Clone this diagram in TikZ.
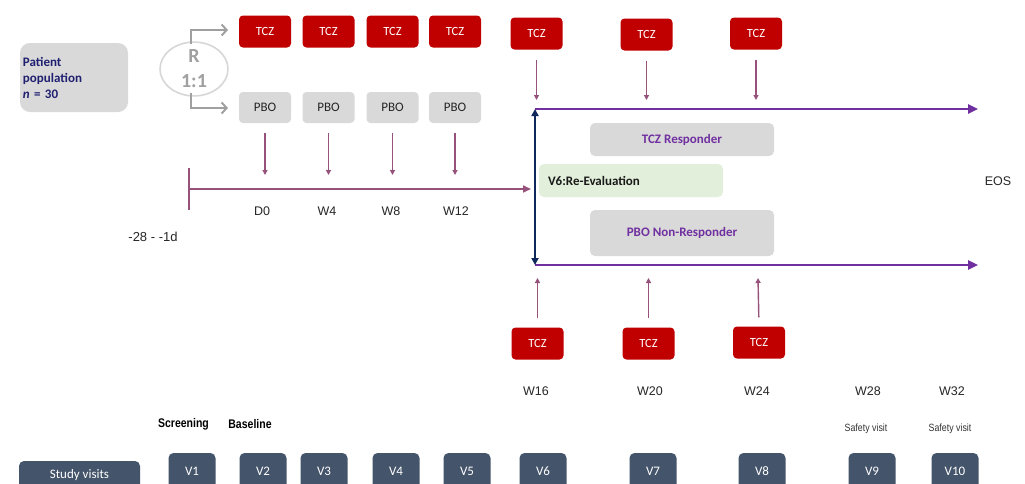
\documentclass[tikz,border=0pt]{standalone}
\usepackage{fontspec}
\setmainfont{Carlito}
\newfontfamily\arial{Liberation Sans}
\newfontfamily\arialn[FakeStretch=0.84]{Liberation Sans}
\usetikzlibrary{arrows.meta,shapes.geometric}
\definecolor{tczred}{RGB}{192,0,0}
\definecolor{boxgray}{RGB}{217,217,217}
\definecolor{navytext}{RGB}{32,32,112}
\definecolor{mauve}{RGB}{150,82,122}
\definecolor{purp}{RGB}{112,48,160}
\definecolor{navy}{RGB}{14,40,92}
\definecolor{greenbox}{RGB}{226,239,218}
\definecolor{slate}{RGB}{68,84,106}
\definecolor{ringgray}{RGB}{215,215,215}
\definecolor{brgray}{RGB}{160,160,160}
\tikzset{
  tczbox/.style={fill=tczred, rounded corners=4pt, minimum width=52pt, minimum height=32pt, text=white, inner sep=0pt, font=\fontsize{12.5}{14}\selectfont},
  pbobox/.style={fill=boxgray, rounded corners=4pt, minimum width=52pt, minimum height=31pt, text=black!85, inner sep=0pt, font=\fontsize{13}{14}\selectfont},
  respbox/.style={fill=boxgray, rounded corners=5pt, minimum width=184pt, inner sep=0pt, text=purp, font=\bfseries\fontsize{13}{15}\selectfont},
  vbox/.style={fill=slate, rounded corners=5pt, minimum width=47pt, minimum height=36pt, text=white, inner sep=0pt, font=\fontsize{13}{14}\selectfont},
  lab/.style={inner sep=0pt, font=\arial\fontsize{12.5}{14}\selectfont, text=black!85},
  narrowlab/.style={inner sep=0pt, font=\arialn\bfseries\fontsize{12.5}{14}\selectfont},
  safelab/.style={inner sep=0pt, font=\arialn\fontsize{10.5}{12}\selectfont, text=black!80},
  marr/.style={draw=mauve, line width=1.4pt, -{Triangle[length=5pt,width=5pt]}},
  parr/.style={draw=purp, line width=2.4pt, -{Triangle[length=10pt,width=9pt]}},
  grayarr/.style={draw=brgray, line width=2pt, -{Straight Barb[length=5pt,width=11pt]}},
}
\begin{document}
\begin{tikzpicture}[x=1pt,y=-1pt]
\useasboundingbox (0,0) rectangle (1025,483);
\clip (0,0) rectangle (1025,483);
\fill[white] (0,0) rectangle (1025,483);

% patient population
\node[fill=boxgray, rounded corners=10pt, minimum width=108pt, minimum height=69pt, text width=102pt, inner xsep=3pt, align=left, text=navytext, font=\bfseries\fontsize{13}{16}\selectfont] (pat) at (74,77.5) {Patient\\population\\\textit{n}~=~30};

% randomisation
\node[ellipse, draw=ringgray, line width=1.6pt, minimum width=68pt, minimum height=52pt, inner sep=0pt, align=center, text=brgray, font=\bfseries\fontsize{20}{25}\selectfont] (ell) at (194,69) {R\\1:1};
\coordinate (bt) at (191,44);
\coordinate (bt2) at (191,30);
\coordinate (be1) at (228,30);
\coordinate (bb) at (191,93);
\coordinate (bb2) at (191,108);
\coordinate (be2) at (228,108);
\draw[grayarr] (bt) -- (bt2) -- (be1);
\draw[grayarr] (bb) -- (bb2) -- (be2);

% first-phase TCZ / PBO
\foreach \i/\x in {1/265,2/328.5,3/392.5,4/455}{
  \node[tczbox] (t\i) at (\x,31.5) {TCZ};
  \node[pbobox] (p\i) at (\x,107.5) {PBO};
  \coordinate (pa\i) at (\x,175);
  \draw[marr, shorten <=10pt] (p\i.south) -- (pa\i);
}

% timeline
\coordinate (tk1) at (189,168);
\coordinate (tk2) at (189,210);
\coordinate (tl0) at (189,189);
\coordinate (tlend) at (531,189);
\draw[mauve, line width=1.6pt] (tk1) -- (tk2);
\draw[mauve, line width=1.6pt, -{Triangle[length=8pt,width=7pt]}] (tl0) -- (tlend);

\node[lab] (d0) at (262,211) {D0};
\node[lab] (w4) at (327,211) {W4};
\node[lab] (w8) at (391,211) {W8};
\node[lab] (w12) at (456,211) {W12};
\node[lab, font=\arial\fontsize{13}{14}\selectfont] (pre) at (153,237) {-28 - -1d};

% re-evaluation split
\coordinate (vtop) at (535,109);
\coordinate (vbot) at (535,265);
\coordinate (topend) at (978,109);
\coordinate (botend) at (978,265);
\draw[parr] (vtop) -- (topend);
\draw[parr] (vbot) -- (botend);
\draw[navy, line width=2.4pt, {Triangle[length=7pt,width=7pt]}-{Triangle[length=7pt,width=7pt]}] (vtop) -- (vbot);

% TCZ after re-evaluation (top)
\node[tczbox] (t5) at (536.5,33.5) {TCZ};
\node[tczbox] (t6) at (646.5,34.5) {TCZ};
\node[tczbox] (t7) at (756,33.5) {TCZ};
\coordinate (ta5) at (536.5,100);
\coordinate (ta6) at (646.5,100);
\coordinate (ta7) at (756,100);
\draw[marr, shorten <=10pt] (t5.south) -- (ta5);
\draw[marr, shorten <=10pt] (t6.south) -- (ta6);
\draw[marr, shorten <=10pt] (t7.south) -- (ta7);

% TCZ (bottom)
\node[tczbox] (b5) at (537.5,343.5) {TCZ};
\node[tczbox] (b6) at (648.5,343.5) {TCZ};
\node[tczbox] (b7) at (759,342.5) {TCZ};
\coordinate (ba5) at (537.5,278);
\coordinate (ba6) at (648.5,278);
\coordinate (ba7) at (758,278);
\draw[marr, shorten <=9pt] (b5.north) -- (ba5);
\draw[marr, shorten <=9pt] (b6.north) -- (ba6);
\draw[marr, shorten <=9pt] (b7.north) -- (ba7);

% group boxes
\node[respbox, minimum height=33pt] (resp) at (682,139.5) {TCZ Responder};
\node[fill=greenbox, rounded corners=5pt, minimum height=33pt, text width=166pt, inner xsep=9pt, inner ysep=0pt, align=left, text=black!90, font=\bfseries\fontsize{13}{15}\selectfont] (reeval) at (631,180.5) {V6:Re-Evaluation};
\node[respbox, minimum height=46pt] (nonresp) at (682,233) {PBO Non-Responder};

\node[lab] (eos) at (998,181) {EOS};

% week labels
\node[lab] (w16) at (536,391) {W16};
\node[lab] (w20) at (650,391) {W20};
\node[lab] (w24) at (757,391) {W24};
\node[lab] (w28) at (868,391) {W28};
\node[lab] (w32) at (952,391) {W32};

\node[narrowlab] (scr) at (183.5,424) {Screening};
\node[narrowlab] (base) at (250,424) {Baseline};
\node[safelab] (sv1) at (866,429) {Safety visit};
\node[safelab] (sv2) at (950,429) {Safety visit};

% study visits
\node[fill=slate, rounded corners=5pt, minimum width=121pt, minimum height=28pt, text=white, inner sep=0pt, font=\fontsize{13}{14}\selectfont] (sv) at (79.5,475) {Study visits};
\foreach \n/\x in {1/192,2/263,3/324,4/396,5/467,6/543,7/653,8/762,9/872,10/955}{
  \node[vbox] (v\n) at (\x,471) {V\n};
}
\end{tikzpicture}
\end{document}
